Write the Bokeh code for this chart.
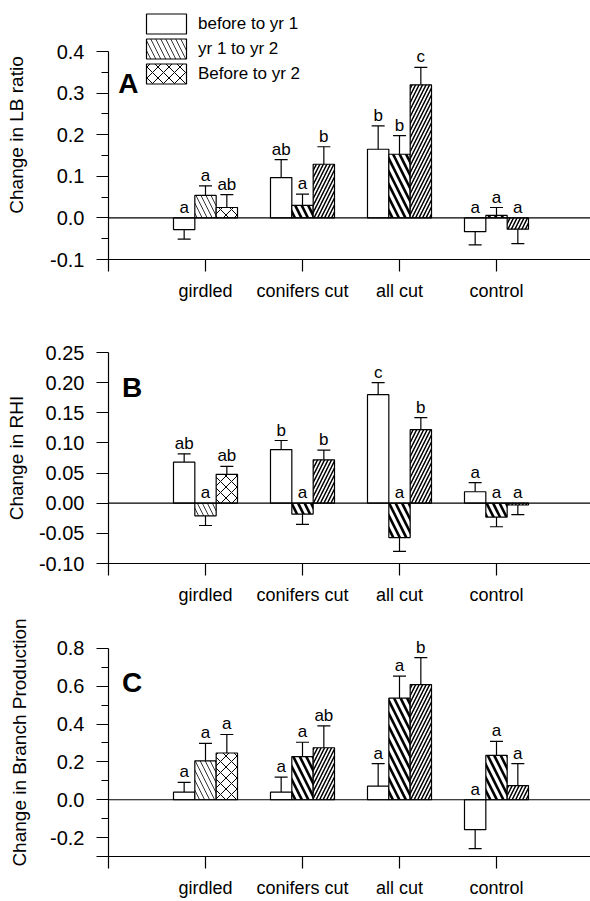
import numpy as np
from bokeh.plotting import figure
from bokeh.models import (ColumnDataSource, Range1d, FixedTicker, PrintfTickFormatter,
                          Span, Label, Legend, LegendItem, Whisker, TeeHead)
from bokeh.layouts import column
from bokeh.embed import file_html
from bokeh.resources import INLINE
from bokeh.core.properties import value

# ---------------- data ----------------
categories = ["girdled", "conifers cut", "all cut", "control"]
series_names = ["before to yr 1", "yr 1 to yr 2", "Before to yr 2"]

# Panel A: change in LB ratio
lb_before = [-0.028, 0.097, 0.165, -0.033]
lb_before_se = [0.023, 0.043, 0.056, 0.032]
lb_yr1yr2 = [0.054, 0.030, 0.153, 0.006]
lb_yr1yr2_se = [0.023, 0.027, 0.045, 0.019]
lb_beforeyr2 = [0.025, 0.129, 0.320, -0.027]
lb_beforeyr2_se = [0.031, 0.042, 0.042, 0.035]
lb_letters = [["a", "ab", "b", "a"], ["a", "a", "b", "a"], ["ab", "b", "c", "a"]]

# Panel B: change in RHI
rhi_before = [0.068, 0.089, 0.180, 0.019]
rhi_before_se = [0.014, 0.015, 0.020, 0.015]
rhi_yr1yr2 = [-0.021, -0.018, -0.057, -0.023]
rhi_yr1yr2_se = [0.016, 0.017, 0.023, 0.016]
rhi_beforeyr2 = [0.048, 0.072, 0.122, -0.003]
rhi_beforeyr2_se = [0.013, 0.016, 0.020, 0.016]
rhi_letters = [["ab", "b", "c", "a"], ["a", "a", "a", "a"], ["ab", "b", "b", "a"]]

# Panel C: change in branch production
br_before = [0.040, 0.040, 0.072, -0.158]
br_before_se = [0.052, 0.080, 0.119, 0.100]
br_yr1yr2 = [0.206, 0.228, 0.537, 0.235]
br_yr1yr2_se = [0.092, 0.076, 0.117, 0.074]
br_beforeyr2 = [0.247, 0.275, 0.609, 0.075]
br_beforeyr2_se = [0.098, 0.116, 0.142, 0.116]
br_letters = [["a", "a", "a", "a"], ["a", "a", "a", "a"], ["a", "ab", "b", "a"]]

# ---------------- styles ----------------
FONT = "Liberation Sans"
HATCH = {
    "blank": (" ", 10, 1.0),
    "thin_back": ("\\", 10, 0.8),
    "thick_back": ("\\", 13, 2.6),
    "cross": ("x", 11, 1.0),
    "fwd": ("/", 7, 1.5),
}
series_hatch = [
    ["blank", "blank", "blank", "blank"],
    ["thin_back", "thick_back", "thick_back", "thick_back"],
    ["cross", "fwd", "fwd", "fwd"],
]
offsets = [-0.22, 0.0, 0.22]
BAR_W = 0.22
FIG_W = 590
LEFT = 108
X_END = (FIG_W - LEFT) / 97


def make_panel(means, ses, letters, ylo, yhi, ticks, minor, fmt, overrides, ylabel,
               tag, tag_xy, height, top, bottom, ylab_standoff, xlab_standoff,
               legend=False, extra_top_px=0, frame_px=None):
    yend = yhi
    if extra_top_px:
        yend = yhi + extra_top_px * (yhi - ylo) / frame_px
    p = figure(width=FIG_W, height=height, x_range=Range1d(0, X_END), y_range=Range1d(ylo, yend),
               output_backend="svg", toolbar_location=None,
               min_border_left=LEFT, min_border_right=0, min_border_top=top, min_border_bottom=bottom)
    p.grid.visible = False
    p.outline_line_color = None
    p.background_fill_color = "white"
    p.border_fill_color = "white"

    base = np.arange(1, len(categories) + 1, dtype=float)
    bar_renderers = []
    for i in range(3):
        m = np.array(means[i], dtype=float)
        s = np.array(ses[i], dtype=float)
        hp = [HATCH[h][0] for h in series_hatch[i]]
        hs = [HATCH[h][1] for h in series_hatch[i]]
        hw = [HATCH[h][2] for h in series_hatch[i]]
        x = base + offsets[i]
        src = ColumnDataSource(dict(x=x, top=m, hp=hp, hs=hs, hw=hw))
        r = p.vbar(x="x", top="top", bottom=0, width=BAR_W, source=src,
                   fill_color="white", line_color="black", line_width=1.2,
                   hatch_pattern="hp", hatch_scale="hs", hatch_weight="hw", hatch_color="black")
        bar_renderers.append(r)

        pos = m >= 0
        src_pos = ColumnDataSource(dict(x=x[pos], lo=m[pos], hi=(m + s)[pos]))
        src_neg = ColumnDataSource(dict(x=x[~pos], lo=(m - s)[~pos], hi=m[~pos]))
        p.add_layout(Whisker(source=src_pos, base="x", lower="lo", upper="hi", dimension="height",
                             line_width=1.2, line_color="black",
                             upper_head=TeeHead(size=13, line_width=1.2, line_color="black"),
                             lower_head=None))
        p.add_layout(Whisker(source=src_neg, base="x", lower="lo", upper="hi", dimension="height",
                             line_width=1.2, line_color="black",
                             lower_head=TeeHead(size=13, line_width=1.2, line_color="black"),
                             upper_head=None))
        ly = np.where(m > 0, m + s, 0.0)
        lsrc = ColumnDataSource(dict(x=x, y=ly, t=letters[i]))
        p.text(x="x", y="y", text="t", source=lsrc, text_align="center",
               text_baseline="bottom", y_offset=-1, text_font=value(FONT),
               text_font_size="17px", text_color="black")

    p.add_layout(Span(location=0, dimension="width", line_color="black", line_width=1.2))

    # x axis
    xa = p.xaxis[0]
    xa.ticker = FixedTicker(ticks=[0] + list(base))
    ov = {0: ""}
    for k, c in enumerate(categories):
        ov[k + 1] = c
    xa.major_label_overrides = ov
    xa.major_tick_out = 12
    xa.major_tick_in = 0
    xa.minor_tick_out = 0
    xa.minor_tick_in = 0
    xa.major_label_standoff = xlab_standoff
    xa.major_label_text_font = FONT
    xa.major_label_text_font_size = "18px"
    xa.major_label_text_color = "black"
    xa.axis_line_width = 1.2
    xa.major_tick_line_width = 1.2

    # y axis
    ya = p.yaxis[0]
    ya.ticker = FixedTicker(ticks=ticks, minor_ticks=minor)
    ya.formatter = PrintfTickFormatter(format=fmt)
    if overrides:
        ya.major_label_overrides = overrides
    if extra_top_px:
        ya.bounds = (ylo, yhi)
    ya.major_tick_out = 12
    ya.major_tick_in = 0
    ya.minor_tick_out = 7
    ya.minor_tick_in = 0
    ya.major_label_standoff = 12
    ya.major_label_text_font = FONT
    ya.major_label_text_font_size = "20px"
    ya.major_label_text_color = "black"
    ya.axis_line_width = 1.2
    ya.major_tick_line_width = 1.2
    ya.minor_tick_line_width = 1.2
    ya.axis_label = ylabel
    ya.axis_label_text_font = FONT
    ya.axis_label_text_font_size = "19px"
    ya.axis_label_text_font_style = "normal"
    ya.axis_label_text_color = "black"
    ya.axis_label_standoff = ylab_standoff

    p.add_layout(Label(x=tag_xy[0], y=tag_xy[1], text=tag, text_font=FONT,
                       text_font_size="28px", text_font_style="bold", text_color="black",
                       text_baseline="alphabetic"))

    if legend:
        items = [LegendItem(label=series_names[i], renderers=[bar_renderers[i]], index=0)
                 for i in range(3)]
        lg = Legend(items=items, location=(33, 173), orientation="vertical",
                    glyph_width=50, glyph_height=25, label_standoff=7, label_height=25,
                    spacing=0, padding=0, margin=0, border_line_color=None,
                    background_fill_alpha=0, label_text_font=FONT,
                    label_text_font_size="17px", label_text_color="black")
        p.add_layout(lg)
    return p


pA = make_panel([lb_before, lb_yr1yr2, lb_beforeyr2],
                [lb_before_se, lb_yr1yr2_se, lb_beforeyr2_se], lb_letters,
                -0.1, 0.4, [-0.1, 0.0, 0.1, 0.2, 0.3, 0.4],
                [-0.05, 0.05, 0.15, 0.25, 0.35], "%.1f", None,
                "Change in LB ratio", "A", (0.10, 0.324),
                305, 10, 46, 20, 9, legend=True, extra_top_px=41, frame_px=208)
pB = make_panel([rhi_before, rhi_yr1yr2, rhi_beforeyr2],
                [rhi_before_se, rhi_yr1yr2_se, rhi_beforeyr2_se], rhi_letters,
                -0.10, 0.25, [-0.10, -0.05, 0.0, 0.05, 0.10, 0.15, 0.20, 0.25],
                [], "%.2f", None,
                "Change in RHI", "B", (0.14, 0.192),
                302, 47, 44, 9, 9)
pC = make_panel([br_before, br_yr1yr2, br_beforeyr2],
                [br_before_se, br_yr1yr2_se, br_beforeyr2_se], br_letters,
                -0.3, 0.8, [-0.3, -0.2, 0.0, 0.2, 0.4, 0.6, 0.8],
                [-0.1, 0.1, 0.3, 0.5, 0.7], "%.1f", {-0.3: ""},
                "Change in Branch Production", "C", (0.14, 0.621),
                293, 21, 43, 17, 9, extra_top_px=20, frame_px=209)

layout = column(pA, pB, pC, spacing=0)
open("out.html", "w").write(file_html(layout, INLINE))
